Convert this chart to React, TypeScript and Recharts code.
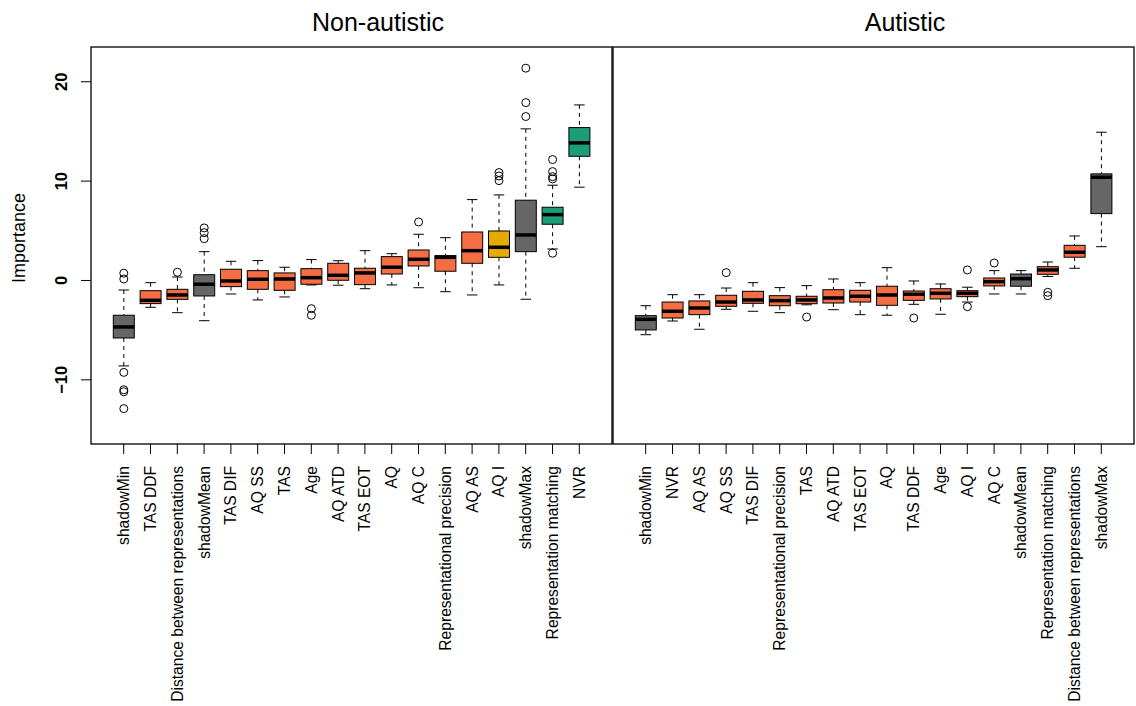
import { ComposedChart, Bar, XAxis, YAxis } from "recharts";

// Non-autistic panel
const nonAutCats = [
  "shadowMin", "TAS DDF", "Distance between representations", "shadowMean", "TAS DIF", "AQ SS",
  "TAS", "Age", "AQ ATD", "TAS EOT", "AQ", "AQ C", "Representational precision", "AQ AS",
  "AQ I", "shadowMax", "Representation matching", "NVR",
];
const nonAutLo = [-8.6, -2.7, -3.24, -4.05, -1.36, -1.96, -1.66, -0.45, -0.48, -0.83, -0.45, -0.73, -1.13, -1.46, -0.45, -1.89, 3.17, 9.39];
const nonAutQ1 = [-5.79, -2.33, -1.9, -1.56, -0.62, -0.89, -0.99, -0.38, 0.02, -0.42, 0.65, 1.46, 0.93, 1.73, 2.33, 2.9, 5.66, 12.5];
const nonAutMed = [-4.68, -2.0, -1.46, -0.38, -0.05, 0.12, 0.15, 0.28, 0.52, 0.76, 1.33, 2.13, 2.33, 3.0, 3.34, 4.58, 6.63, 13.85];
const nonAutQ3 = [-3.5, -1.03, -0.89, 0.58, 1.13, 0.99, 0.76, 1.19, 1.73, 1.23, 2.4, 3.07, 2.5, 4.88, 4.98, 8.08, 7.37, 15.39];
const nonAutHi = [-0.96, -0.22, 0.35, 2.9, 1.93, 2.0, 1.33, 2.1, 1.99, 3.0, 2.7, 4.65, 4.31, 8.14, 8.61, 15.26, 9.59, 17.67];
const nonAutOut = [
  [0.73, 0.15, -9.25, -11.0, -11.2, -12.9], [], [0.83], [5.29, 4.81, 4.21], [], [], [], [-2.84, -3.5],
  [], [], [], [5.89], [], [], [10.86, 10.52, 10.05], [21.37, 17.9, 16.5], [12.17, 10.96, 10.45, 10.22, 2.74], [],
];
const nonAutStatus = [
  "shadow", "rejected", "rejected", "shadow", "rejected", "rejected", "rejected", "rejected", "rejected",
  "rejected", "rejected", "rejected", "rejected", "rejected", "tentative", "shadow", "confirmed", "confirmed",
];

// Autistic panel
const autCats = [
  "shadowMin", "NVR", "AQ AS", "AQ SS", "TAS DIF", "Representational precision", "TAS", "AQ ATD",
  "TAS EOT", "AQ", "TAS DDF", "Age", "AQ I", "AQ C", "shadowMean", "Representation matching",
  "Distance between representations", "shadowMax",
];
const autLo = [-5.46, -4.08, -4.91, -2.9, -3.1, -3.24, -2.45, -2.94, -3.44, -3.5, -2.4, -3.4, -2.17, -1.36, -1.36, 0.4, 1.23, 3.4];
const autQ1 = [-4.98, -3.78, -3.44, -2.6, -2.3, -2.54, -2.34, -2.27, -2.17, -2.5, -2.0, -1.86, -1.63, -0.55, -0.58, 0.62, 2.34, 6.73];
const autMed = [-3.91, -3.1, -2.77, -2.17, -1.96, -2.03, -1.96, -1.76, -1.59, -1.46, -1.39, -1.29, -1.29, -0.12, 0.18, 1.06, 2.84, 10.39];
const autQ3 = [-3.54, -2.17, -2.06, -1.49, -1.09, -1.53, -1.59, -0.93, -0.99, -0.58, -1.06, -0.83, -1.03, 0.25, 0.65, 1.39, 3.54, 10.73];
const autHi = [-2.54, -1.43, -1.43, -0.76, -0.22, -0.72, -0.52, 0.15, -0.22, 1.29, -0.05, -0.35, -0.68, 0.99, 0.99, 1.86, 4.48, 14.92];
const autOut = [
  [], [], [], [0.79], [], [], [-3.68], [], [], [], [-3.78], [], [1.06, -2.64], [1.76], [], [-1.19, -1.53], [], [],
];
const autStatus = [
  "shadow", "rejected", "rejected", "rejected", "rejected", "rejected", "rejected", "rejected", "rejected",
  "rejected", "rejected", "rejected", "rejected", "rejected", "shadow", "rejected", "rejected", "shadow",
];

const yTicks = [-10, 0, 10, 20];
const yDomain = [-16.46, 23.5];

const statusColor: Record<string, string> = {
  shadow: "#666666",
  rejected: "#F46D43",
  tentative: "#E6AB02",
  confirmed: "#1B9E77",
};

const FONT = "'Liberation Sans', Arial, Helvetica, sans-serif";

function buildRows(cats: string[], lo: number[], q1: number[], med: number[], q3: number[], hi: number[], out: number[][], status: string[]) {
  return cats.map((name, i) => ({
    name,
    lo: lo[i],
    q1: q1[i],
    med: med[i],
    q3: q3[i],
    hi: hi[i],
    out: out[i],
    status: status[i],
  }));
}

const nonAutRows = buildRows(nonAutCats, nonAutLo, nonAutQ1, nonAutMed, nonAutQ3, nonAutHi, nonAutOut, nonAutStatus);
const autRows = buildRows(autCats, autLo, autQ1, autMed, autQ3, autHi, autOut, autStatus);

// draws one boxplot from the whisker range bar; other values mapped with the bar's own scale
function BoxShape(props: any) {
  const { x, y, width, height, payload } = props;
  if (!payload || width == null) return null;
  const { lo, hi, q1, med, q3, out, status } = payload;
  const top = Math.min(y, y + height);
  const h = Math.abs(height);
  const py = (v: number) => top + ((hi - v) / (hi - lo)) * h;
  const cx = x + width / 2;
  const cap = width / 4;
  return (
    <g>
      <line x1={cx} x2={cx} y1={py(hi)} y2={py(q3)} stroke="#000" strokeWidth={1} strokeDasharray="4 4" />
      <line x1={cx} x2={cx} y1={py(q1)} y2={py(lo)} stroke="#000" strokeWidth={1} strokeDasharray="4 4" />
      <line x1={cx - cap} x2={cx + cap} y1={py(hi)} y2={py(hi)} stroke="#000" strokeWidth={1} />
      <line x1={cx - cap} x2={cx + cap} y1={py(lo)} y2={py(lo)} stroke="#000" strokeWidth={1} />
      <rect x={x} y={py(q3)} width={width} height={py(q1) - py(q3)} fill={statusColor[status]} stroke="#000" strokeWidth={1} />
      <line x1={x} x2={x + width} y1={py(med)} y2={py(med)} stroke="#000" strokeWidth={3.5} />
      {out.map((v: number, k: number) => (
        <circle key={k} cx={cx} cy={py(v)} r={4} fill="none" stroke="#000" strokeWidth={1} />
      ))}
    </g>
  );
}

function XTick(props: any) {
  const { x, payload } = props;
  const tx = x + 5.5;
  const ty = 466;
  return (
    <text x={tx} y={ty} transform={`rotate(-90 ${tx} ${ty})`} textAnchor="end" fontSize={15.6} fontFamily={FONT} fill="#000">
      {payload.value}
    </text>
  );
}

function YTick(props: any) {
  const { y, payload } = props;
  const tx = 67;
  const label = String(payload.value).replace("-", "\u2212");
  return (
    <text x={tx} y={y} transform={`rotate(-90 ${tx} ${y})`} textAnchor="middle" fontSize={16.5} fontWeight="bold" fontFamily={FONT} fill="#000">
      {label}
    </text>
  );
}

function Panel({ rows, showY, width }: { rows: any[]; showY: boolean; width: number }) {
  return (
    <ComposedChart width={width} height={706} data={rows} margin={{ top: 47, right: 0, bottom: 0, left: 0 }}>
      <XAxis
        dataKey="name"
        type="category"
        interval={0}
        padding={{ left: 19.3, right: 19.3 }}
        height={262}
        axisLine={false}
        tickSize={10}
        tickLine={{ stroke: "#000" }}
        tick={<XTick />}
      />
      <YAxis
        type="number"
        domain={yDomain}
        ticks={yTicks}
        allowDataOverflow
        hide={!showY}
        width={91}
        axisLine={false}
        tickSize={10}
        tickLine={{ stroke: "#000" }}
        tick={<YTick />}
      />
      <Bar dataKey={(d: any) => [d.lo, d.hi]} barSize={21} shape={<BoxShape />} isAnimationActive={false} />
    </ComposedChart>
  );
}

export default function App() {
  return (
    <div style={{ position: "absolute", left: 0, top: 0, width: 1136, height: 706, background: "#fff", fontFamily: FONT }}>
      <div style={{ position: "absolute", left: 0, top: 0 }}>
        <Panel rows={nonAutRows} showY width={612} />
      </div>
      <div style={{ position: "absolute", left: 613, top: 0 }}>
        <Panel rows={autRows} showY={false} width={521} />
      </div>
      <svg width={1136} height={706} style={{ position: "absolute", left: 0, top: 0, pointerEvents: "none" }}>
        <rect x={91} y={47} width={521} height={397} fill="none" stroke="#000" strokeWidth={1.3} />
        <rect x={613} y={47} width={521} height={397} fill="none" stroke="#000" strokeWidth={1.3} />
        <text x={378} y={31} textAnchor="middle" fontSize={25} fontFamily={FONT} fill="#000">Non-autistic</text>
        <text x={905} y={31} textAnchor="middle" fontSize={25} fontFamily={FONT} fill="#000">Autistic</text>
        <text x={25} y={238} transform="rotate(-90 25 238)" textAnchor="middle" fontSize={18} fontFamily={FONT} fill="#000">Importance</text>
      </svg>
    </div>
  );
}
